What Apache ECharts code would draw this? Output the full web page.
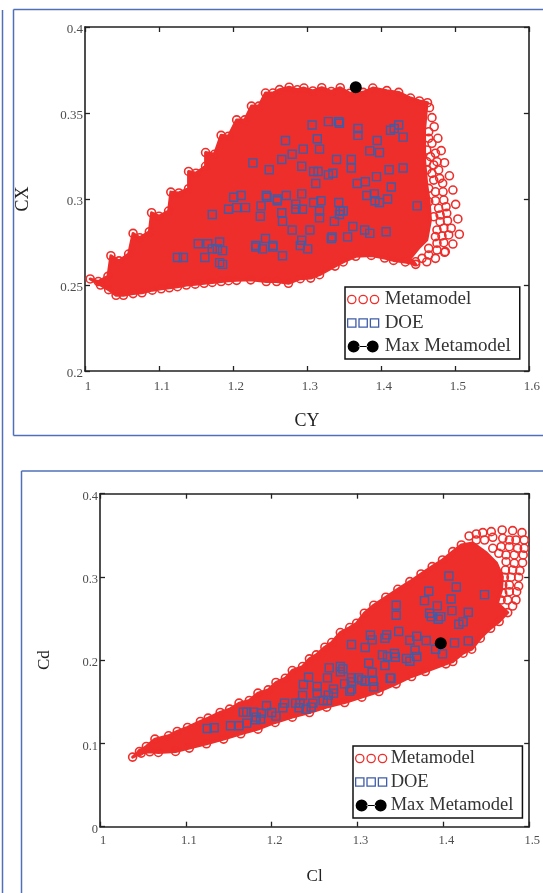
<!DOCTYPE html>
<html><head><meta charset="utf-8">
<style>html,body{margin:0;padding:0;background:#fff}#c{width:543px;height:893px}</style>
<script src="https://cdn.jsdelivr.net/npm/echarts@6/dist/echarts.min.js"></script>
</head><body><div id="c"></div>
<script>
// ---- upper chart (CY / CX)
const doeTop = [[1.307,.343],[1.329,.345],[1.343,.345],[1.344,.344],[1.369,.341],[1.369,.337],[1.424,.343],[1.418,.341],[1.413,.340],[1.430,.336],[1.395,.334],[1.385,.328],[1.398,.327],[1.271,.334],[1.314,.335],[1.295,.329],[1.317,.329],[1.280,.326],[1.266,.323],[1.227,.321],[1.249,.317],[1.293,.319],[1.309,.316],[1.315,.316],[1.329,.314],[1.335,.315],[1.340,.323],[1.360,.323],[1.360,.318],[1.411,.317],[1.430,.318],[1.394,.313],[1.379,.310],[1.368,.309],[1.312,.309],[1.414,.307],[1.381,.302],[1.391,.303],[1.392,.299],[1.398,.298],[1.409,.300],[1.449,.296],[1.293,.303],[1.272,.302],[1.245,.302],[1.246,.301],[1.260,.300],[1.260,.299],[1.211,.302],[1.201,.301],[1.194,.294],[1.205,.295],[1.217,.295],[1.172,.291],[1.238,.296],[1.237,.290],[1.266,.292],[1.267,.287],[1.285,.297],[1.285,.294],[1.294,.294],[1.309,.298],[1.319,.299],[1.317,.293],[1.317,.289],[1.343,.298],[1.345,.293],[1.349,.293],[1.344,.291],[1.337,.287],[1.280,.282],[1.304,.282],[1.362,.284],[1.378,.282],[1.385,.280],[1.407,.281],[1.355,.278],[1.334,.278],[1.333,.277],[1.244,.277],[1.293,.276],[1.291,.273],[1.301,.271],[1.254,.273],[1.254,.272],[1.231,.273],[1.231,.272],[1.240,.271],[1.267,.267],[1.153,.274],[1.166,.274],[1.182,.275],[1.172,.271],[1.179,.271],[1.186,.270],[1.125,.266],[1.133,.266],[1.162,.266],[1.182,.263],[1.186,.262]];
const maxTop = [[1.366,.365]];
const rimUpperTop = [[1.007,.2535],[1.018,.252],[1.031,.255],[1.035,.267],[1.046,.264],[1.059,.268],[1.065,.280],[1.074,.2775],[1.087,.281],[1.090,.292],[1.100,.290],[1.113,.293],[1.116,.304],[1.127,.3035],[1.140,.306],[1.140,.316],[1.150,.315],[1.163,.319],[1.163,.327],[1.175,.326],[1.184,.337],[1.194,.3365],[1.205,.346],[1.216,.346],[1.225,.354],[1.235,.354],[1.244,.3616],[1.254,.3616],[1.263,.3636],[1.276,.365],[1.287,.3635],[1.296,.3645],[1.308,.3628],[1.320,.3647],[1.333,.3625],[1.345,.3647],[1.358,.3615],[1.376,.362],[1.389,.3645],[1.408,.363],[1.424,.362],[1.440,.3587],[1.452,.357],[1.463,.356]];
const rimRightTop = [[1.4656,.3531],[1.469,.3473],[1.472,.342],[1.477,.3353],[1.4815,.3281],[1.486,.3211],[1.4926,.3135],[1.4973,.3052],[1.501,.2969],[1.504,.2884],[1.506,.2795],[1.4973,.2738],[1.486,.269],[1.4737,.2655],[1.462,.2635]];
const rimLowerTop = [[1.447,.262],[1.433,.2634],[1.417,.2643],[1.405,.2657],[1.387,.2672],[1.366,.2667],[1.349,.2634],[1.338,.261],[1.317,.256],[1.305,.254],[1.291,.2537],[1.275,.251],[1.259,.252],[1.245,.252],[1.224,.253],[1.205,.2527],[1.194,.2525],[1.184,.252],[1.172,.2515],[1.161,.251],[1.149,.2505],[1.137,.25],[1.125,.249],[1.114,.2484],[1.103,.2478],[1.091,.247],[1.077,.2455],[1.065,.245],[1.052,.244],[1.042,.244],[1.032,.2473],[1.021,.25]];
const innerRingsTop = [[1.4646,.3391],[1.469,.3324],[1.4646,.3353],[1.462,.3285],[1.4737,.3266],[1.467,.3246],[1.4758,.3217],[1.4714,.3198],[1.462,.3217],[1.478,.3169],[1.469,.3149],[1.462,.3169],[1.4795,.312],[1.4714,.311],[1.4835,.3091],[1.484,.3042],[1.4737,.3042],[1.4646,.3062],[1.485,.2994],[1.4737,.299],[1.4646,.2984],[1.488,.2955],[1.478,.2946],[1.489,.2917],[1.48,.2907],[1.4714,.2897],[1.49,.2874],[1.48,.2868],[1.495,.283],[1.485,.283],[1.4758,.282],[1.4916,.2791],[1.4825,.2785],[1.4737,.2781],[1.485,.2746],[1.4758,.2743],[1.487,.2694],[1.4758,.2703],[1.4646,.2713],[1.4646,.2674],[1.4556,.2655],[1.447,.2635]];
const bodyRightTop = [[1.462,.3547],[1.459,.3401],[1.459,.3227],[1.462,.3081],[1.465,.2994],[1.467,.2878],[1.462,.2762],[1.451,.2715],[1.440,.2657]];

// ---- lower chart (Cl / Cd)
const doeLow = [[1.4065,.3012],[1.415,.288],[1.383,.2828],[1.378,.2716],[1.409,.2736],[1.448,.2788],[1.345,.266],[1.345,.254],[1.393,.2652],[1.384,.2564],[1.386,.2524],[1.394,.2492],[1.397,.2524],[1.410,.2596],[1.429,.2576],[1.423,.246],[1.418,.2432],[1.348,.2344],[1.315,.23],[1.334,.2304],[1.332,.2264],[1.317,.2244],[1.293,.2188],[1.309,.2152],[1.361,.224],[1.369,.2288],[1.380,.2236],[1.429,.2232],[1.413,.2208],[1.391,.2132],[1.399,.2076],[1.367,.212],[1.369,.2044],[1.329,.2064],[1.343,.208],[1.335,.2044],[1.344,.2036],[1.357,.202],[1.361,.1988],[1.332,.1936],[1.313,.1964],[1.317,.1856],[1.338,.1784],[1.339,.1784],[1.267,.1908],[1.280,.1924],[1.283,.1896],[1.280,.186],[1.265,.1788],[1.243,.1796],[1.237,.1708],[1.285,.1716],[1.293,.1788],[1.301,.1788],[1.293,.174],[1.305,.1764],[1.309,.1748],[1.318,.1748],[1.319,.168],[1.293,.1652],[1.291,.1628],[1.253,.1684],[1.253,.1604],[1.272,.1652],[1.272,.1604],[1.266,.158],[1.236,.1576],[1.260,.1516],[1.265,.1516],[1.248,.1484],[1.228,.1484],[1.233,.1484],[1.215,.1484],[1.213,.1428],[1.232,.1428],[1.240,.1412],[1.246,.1436],[1.194,.1452],[1.200,.1372],[1.205,.1328],[1.167,.1376],[1.171,.1376],[1.179,.1376],[1.188,.1364],[1.182,.1316],[1.187,.1292],[1.181,.1284],[1.171,.1244],[1.162,.1212],[1.152,.1212],[1.125,.118],[1.133,.1188]];
const maxLow = [[1.397,.2204]];
const rimUpperLow = [[1.038,.0836],[1.046,.0904],[1.054,.0964],[1.064,.1052],[1.080,.1092],[1.090,.1144],[1.102,.1192],[1.117,.1264],[1.126,.1304],[1.140,.1372],[1.151,.1412],[1.162,.1484],[1.174,.1516],[1.184,.1604],[1.196,.1644],[1.205,.1732],[1.216,.1784],[1.224,.1876],[1.236,.1924],[1.244,.2016],[1.252,.2064],[1.262,.2156],[1.270,.2212],[1.280,.2332],[1.291,.2392],[1.299,.2444],[1.308,.2564],[1.319,.266],[1.333,.2756],[1.347,.2852],[1.361,.2944],[1.374,.3036],[1.387,.3124],[1.399,.3204],[1.411,.3304],[1.421,.3384]];
const rimRightLow = [[1.430,.3492],[1.4384,.3516],[1.446,.3532],[1.4558,.3544],[1.4685,.3564],[1.4807,.3556],[1.4916,.3532],[1.4942,.3444],[1.4942,.3344],[1.493,.3264],[1.4923,.3171],[1.4892,.3075],[1.4877,.2996],[1.4877,.2891],[1.4854,.2823],[1.4846,.2723],[1.4807,.2651]];
const rimLowerLow = [[1.475,.2572],[1.465,.2464],[1.455,.2384],[1.443,.2264],[1.433,.2132],[1.423,.2084],[1.411,.1984],[1.403,.1956],[1.379,.1864],[1.363,.1804],[1.345,.1716],[1.325,.1624],[1.305,.1556],[1.285,.1492],[1.264,.1436],[1.244,.1372],[1.224,.1316],[1.204,.1252],[1.184,.1172],[1.164,.1116],[1.144,.1052],[1.124,.0996],[1.104,.0944],[1.088,.0904],[1.068,.0892],[1.058,.09],[1.048,.0884]];
const innerRingsLow = [[1.4769,.3444],[1.4846,.3444],[1.4692,.3464],[1.4576,.3476],[1.448,.3444],[1.4384,.3444],[1.4865,.3344],[1.4769,.3363],[1.4673,.3363],[1.4576,.3344],[1.4827,.3264],[1.4731,.3264],[1.4646,.3284],[1.4827,.3164],[1.4731,.3183],[1.4807,.3083],[1.4723,.3083],[1.4788,.2996],[1.4711,.2996],[1.4769,.2903],[1.4692,.2903],[1.4769,.2823],[1.4692,.2804],[1.4749,.2723],[1.4673,.2723]];
const bodyRightLow = [[1.4342,.3408],[1.4503,.3288],[1.4619,.3168],[1.4688,.3],[1.4677,.2843],[1.463,.2687]];

const RED='#ee2e2b', BLUE='#3f5ca8', BLACK='#000', FRAME='#4f70b8', INK='#222', TICK='#4d4d4d', SERIF='"Liberation Serif",serif';
const ring=(r,c)=>`M${c},${r}m-${r},0a${r},${r} 0 1,0 ${2*r},0a${r},${r} 0 1,0 -${2*r},0Z`;
const ICON_RINGS='path://'+ring(4,4)+ring(4,15)+ring(4,26);
const box=(x)=>`M${x},0H${x+8}V8H${x}Z`;
const ICON_SQ='path://'+box(0)+box(11)+box(22);
const ICON_MAX='path://'+ring(6,6)+ring(6,25)+'M11,5.4H20V6.6H11Z';

const chart=echarts.init(document.getElementById('c'),null,{renderer:'canvas'});

function axes(gridIndex,xMax,yMin,yMax,yInt,xName,yName,nameGapX,nameGapY,fs,nameFs,marginX){
  const base={gridIndex,axisLine:{show:true,onZero:false,lineStyle:{color:INK,width:1.6}},
    axisTick:{show:true,inside:true,length:5,lineStyle:{color:INK,width:1.3}},splitLine:{show:false},minorTick:{show:false}};
  return {x:[
    {...base,type:'value',position:'bottom',min:1,max:xMax,interval:0.1,name:xName,nameLocation:'middle',nameGap:nameGapX,
      nameTextStyle:{fontFamily:SERIF,fontSize:nameFs,color:INK},
      axisLabel:{show:true,margin:marginX,fontFamily:SERIF,fontSize:fs,color:TICK,padding:[0,0,0,6],hideOverlap:false,showMinLabel:true,showMaxLabel:true}},
    {...base,type:'value',position:'top',min:1,max:xMax,interval:0.1,axisLabel:{show:false}}],
   y:[
    {...base,type:'value',position:'left',min:yMin,max:yMax,interval:yInt,name:yName,nameLocation:'middle',nameGap:nameGapY,nameRotate:90,
      nameTextStyle:{fontFamily:SERIF,fontSize:nameFs,color:INK},
      axisLabel:{show:true,margin:2,fontFamily:SERIF,fontSize:fs,color:TICK,verticalAlign:'top',lineHeight:6,hideOverlap:false,showMinLabel:true,showMaxLabel:true}},
    {...base,type:'value',position:'right',min:yMin,max:yMax,interval:yInt,axisLabel:{show:false}}]};
}
const a1=axes(0,1.6,0.2,0.4,0.05,'CY','CX',41,53,13,18,9);
const a2=axes(1,1.5,0,0.4,0.1,'Cl','Cd',41,47,12.5,17,8);

function seriesFor(xi,yi,upper,right,lower,inner,bodyRight,doe,max){
  const outline=[...upper,...bodyRight,...lower];
  const common={xAxisIndex:xi,yAxisIndex:yi};
  return [
    {...common,type:'custom',name:'body',z:1,silent:true,data:[outline[0]],clip:false,
      renderItem:(p,api)=>({type:'polygon',shape:{points:outline.map(v=>api.coord(v))},style:{fill:RED,stroke:RED,lineWidth:3,lineJoin:'round'}})},
    {...common,type:'scatter',name:'Metamodel',z:2,symbol:'circle',symbolSize:8,silent:true,
      itemStyle:{color:'transparent',borderColor:RED,borderWidth:1.6,opacity:1},data:[...upper,...right,...lower,...inner]},
    {...common,type:'scatter',name:'DOE',z:3,symbol:'rect',symbolSize:8,silent:true,
      itemStyle:{color:'transparent',borderColor:BLUE,borderWidth:1.4,opacity:1},data:doe},
    {...common,type:'scatter',name:'Max Metamodel',z:4,symbol:'circle',symbolSize:12,silent:true,
      itemStyle:{color:BLACK,opacity:1},data:max}
  ];
}
function legendAt(left,top,fs,textPad,right){
  return {left,top,orient:'vertical',padding:[3,right,3,2],itemGap:4.5,itemWidth:31,itemHeight:12,
    backgroundColor:'#fff',borderColor:'#111',borderWidth:1.5,borderRadius:0,selectedMode:false,
    textStyle:{fontFamily:SERIF,fontSize:fs,color:'#333',padding:[0,0,0,textPad]},
    data:[{name:'Metamodel',icon:ICON_RINGS,itemStyle:{color:'transparent',borderColor:RED,borderWidth:1.3}},
          {name:'DOE',icon:ICON_SQ,itemStyle:{color:'transparent',borderColor:BLUE,borderWidth:1.3}},
          {name:'Max Metamodel',icon:ICON_MAX,itemStyle:{color:BLACK}}]};
}
const line=(x1,y1,x2,y2)=>({type:'line',silent:true,shape:{x1,y1,x2,y2},style:{stroke:FRAME,lineWidth:1.5}});
chart.setOption({
  animation:false,backgroundColor:'#fff',
  grid:[{left:85,top:27,width:445.5,height:344},{left:100,top:493.7,width:433,height:333}],
  xAxis:[...a1.x,...a2.x],
  yAxis:[...a1.y,...a2.y],
  legend:[legendAt(345,287,19,1,9),legendAt(353,746,18.5,-1,9)],
  series:[
    ...seriesFor(0,0,rimUpperTop,rimRightTop,rimLowerTop,innerRingsTop,bodyRightTop,doeTop,maxTop),
    ...seriesFor(2,2,rimUpperLow,rimRightLow,rimLowerLow,innerRingsLow,bodyRightLow,doeLow,maxLow)
  ],
  graphic:[
    line(2.5,10,2.5,893),
    line(13.5,9.5,543,9.5),line(13.5,9.5,13.5,435.5),line(13.5,435.5,543,435.5),
    line(21.5,471,543,471),line(21.5,471,21.5,893)
  ]
});
</script></body></html>
